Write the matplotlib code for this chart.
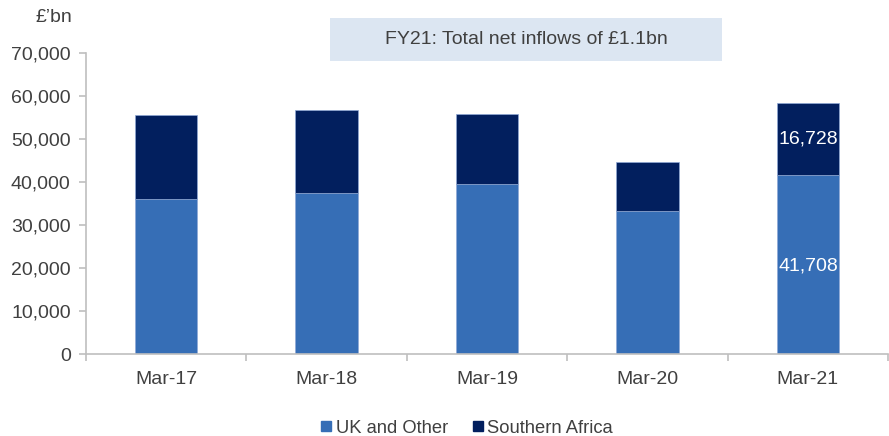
import matplotlib
matplotlib.use("Agg")
import matplotlib.pyplot as plt
from matplotlib.lines import Line2D
from matplotlib.ticker import FuncFormatter, FixedLocator
import numpy as np

categories = ["Mar-17", "Mar-18", "Mar-19", "Mar-20", "Mar-21"]
uk_other = [36000, 37400, 39500, 33200, 41708]
southern_africa = [19500, 19300, 16300, 11400, 16728]
labelled_index = 4
y_ticks = [0, 10000, 20000, 30000, 40000, 50000, 60000, 70000]

plt.rcParams['font.family'] = ['Liberation Sans', 'DejaVu Sans']

C_UK = '#366EB6'
C_SA = '#021F5E'
TXT = '#404040'
SPINE = '#BFBFBF'
FS = 14

fig = plt.figure(figsize=(8.89, 4.36), dpi=100)
ax = fig.add_axes([86/889, 1-354/436, 1-86/889 - 0.001, (354-53)/436])

x = np.arange(len(categories))
w = 0.39
ax.bar(x, uk_other, w, color=C_UK, edgecolor='#8FA9D6', linewidth=0.5, label='UK and Other')
ax.bar(x, southern_africa, w, bottom=uk_other, color=C_SA, edgecolor='#8FA9D6', linewidth=0.5,
       label='Southern Africa')

i = labelled_index
ax.text(x[i], uk_other[i] / 2 - 300, f"{uk_other[i]:,}", color='white', ha='center', va='center', fontsize=FS)
ax.text(x[i], uk_other[i] + southern_africa[i] / 2, f"{southern_africa[i]:,}", color='white',
        ha='center', va='center', fontsize=FS)

ax.set_xlim(-0.5, len(categories) - 0.5)
ax.set_ylim(0, 70000)
ax.yaxis.set_major_locator(FixedLocator(y_ticks))
ax.yaxis.set_major_formatter(FuncFormatter(lambda v, p: f"{int(v):,}"))
ax.set_xticks(x)
ax.set_xticklabels(categories)
ax.set_xticks(np.arange(-0.5, len(categories) + 0.5, 1.0), minor=True)

for s in ['top', 'right']:
    ax.spines[s].set_visible(False)
for s in ['left', 'bottom']:
    ax.spines[s].set_color(SPINE)
    ax.spines[s].set_linewidth(1.2)

ax.tick_params(axis='y', colors=SPINE, labelcolor=TXT, labelsize=FS, length=5, width=1.2, pad=6)
ax.tick_params(axis='x', which='major', length=0, labelcolor=TXT, labelsize=FS, pad=12)
ax.tick_params(axis='x', which='minor', length=5, width=1.2, colors=SPINE)

fig.text(72/889, 1-18/436, "£’bn", ha='right', va='center', fontsize=FS, color=TXT)

# Title box
fig.patches.append(plt.Rectangle((330/889, 1-61/436), (722-330)/889, 43/436,
                                 transform=fig.transFigure, facecolor='#DCE6F2', edgecolor='none'))
fig.text(526/889, 1-40/436, "FY21: Total net inflows of £1.1bn", ha='center', va='center',
         fontsize=FS, color=TXT)

handles = [Line2D([], [], marker='s', linestyle='none', markersize=7.5, color=C_UK),
           Line2D([], [], marker='s', linestyle='none', markersize=7.5, color=C_SA)]
fig.legend(handles, ['UK and Other', 'Southern Africa'], loc='center', bbox_to_anchor=(465/889, 1-428/436),
           ncol=2, frameon=False, fontsize=13.2, labelcolor=TXT, handletextpad=0.0, columnspacing=1.15,
           handlelength=1.0)

fig.savefig("out.png", dpi=100)
